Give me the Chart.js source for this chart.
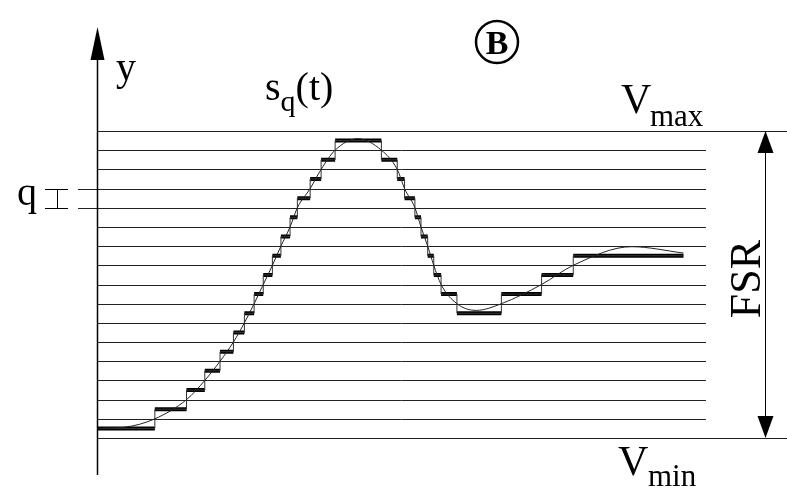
<!DOCTYPE html>
<html>
<head>
<meta charset="utf-8">
<script src="https://cdn.jsdelivr.net/npm/chart.js@4"></script>
<style>
	html, body { margin: 0; padding: 0; background: #fff; }
	#wrap { width: 787px; height: 488px; }
</style>
</head>
<body>
<div id="wrap"><canvas id="chart"></canvas></div>
<script>
// quantization levels (16 codes between Vmin and Vmax)
const levelLines = [0, 1, 2, 3, 4, 5, 6, 7, 8, 9, 10, 11, 12, 13, 14, 15, 16];
const gridEnd = 10;

// staircase s_q(t): start time of each code and the code itself
const stepTimes = [0, 0.95, 1.47, 1.77, 2.02, 2.24, 2.42, 2.58, 2.73, 2.88, 3.02, 3.17, 3.29, 3.50, 3.68, 3.91,
	4.67, 4.93, 5.05, 5.22, 5.32, 5.43, 5.53, 5.65, 5.91, 6.64, 7.30, 7.82];
const stepCodes = [0, 1, 2, 3, 4, 5, 6, 7, 8, 9, 10, 11, 12, 13, 14, 15,
	14, 13, 12, 11, 10, 9, 8, 7, 6, 7, 8, 9];
const stepEnd = 9.63;

// analog signal s(t)
const curveTimes = [0, 0.45, 0.95, 1.47, 1.77, 2.02, 2.24, 2.42, 2.58, 2.73, 2.88, 3.02, 3.17, 3.29, 3.50, 3.68, 3.91,
	4.28, 4.67, 4.93, 5.05, 5.22, 5.32, 5.43, 5.53, 5.65, 5.91, 6.23, 6.64, 7.30, 7.82, 8.78, 9.63];
const curveValues = [0.5, 0.56, 1, 2, 3, 4, 5, 6, 7, 8, 9, 10, 11, 12, 13, 14, 15,
	15.6, 15, 14, 13, 12, 11, 10, 9, 8, 7, 6.65, 7, 8, 9, 9.97, 9.64];

const SERIF = '"Liberation Serif", "DejaVu Serif", serif';

function stairPoints() {
	const pts = stepTimes.map((t, i) => ({ x: t, y: stepCodes[i] + 0.5 }));
	pts.push({ x: stepEnd, y: stepCodes[stepCodes.length - 1] + 0.5 });
	return pts;
}

function barPoints() {
	const pts = [];
	stepTimes.forEach((t, i) => {
		const end = i < stepTimes.length - 1 ? stepTimes[i + 1] : stepEnd;
		pts.push({ x: t, y: stepCodes[i] + 0.5 });
		pts.push({ x: end, y: stepCodes[i] + 0.5 });
		pts.push({ x: end, y: null });
	});
	return pts;
}

function arrowHead(ctx, x, y, dir, w, h) {
	ctx.beginPath();
	ctx.moveTo(x, y);
	ctx.lineTo(x - w / 2, y + dir * h);
	ctx.lineTo(x + w / 2, y + dir * h);
	ctx.closePath();
	ctx.fill();
}

const levelGrid = {
	id: 'levelGrid',
	beforeDatasetsDraw(chart) {
		const ctx = chart.ctx;
		const xs = chart.scales.x, ys = chart.scales.y;
		const x0 = Math.round(xs.getPixelForValue(0));
		const xg = xs.getPixelForValue(gridEnd);
		ctx.save();
		ctx.strokeStyle = '#222';
		ctx.lineWidth = 1;
		levelLines.forEach(k => {
			const y = Math.round(ys.getPixelForValue(k)) + 0.5;
			const full = k === levelLines[0] || k === levelLines[levelLines.length - 1];
			ctx.beginPath();
			ctx.moveTo(k === 12 || k === 13 ? 78 : x0, y);
			ctx.lineTo(full ? chart.width : xg, y);
			ctx.stroke();
		});
		ctx.restore();
	},
	afterDraw(chart) {
		const ctx = chart.ctx;
		const xs = chart.scales.x, ys = chart.scales.y;
		const ax = Math.round(xs.getPixelForValue(0)) + 0.5;
		ctx.save();
		ctx.fillStyle = '#000';
		ctx.strokeStyle = '#000';

		// y axis with arrow
		ctx.lineWidth = 1.5;
		ctx.beginPath();
		ctx.moveTo(ax, 50);
		ctx.lineTo(ax, 475);
		ctx.stroke();
		arrowHead(ctx, ax, 27, 1, 14, 33);

		// FSR double arrow
		const fx = 765.5;
		const yTop = ys.getPixelForValue(16), yBot = ys.getPixelForValue(0);
		ctx.lineWidth = 1;
		ctx.beginPath();
		ctx.moveTo(fx, yTop + 10);
		ctx.lineTo(fx, yBot - 10);
		ctx.stroke();
		arrowHead(ctx, fx, yTop, 1, 16, 22);
		arrowHead(ctx, fx, yBot, -1, 16, 22);

		// q marker
		const q1 = Math.round(ys.getPixelForValue(13)) + 0.5;
		const q0 = Math.round(ys.getPixelForValue(12)) + 0.5;
		ctx.beginPath();
		ctx.moveTo(45, q1); ctx.lineTo(68, q1);
		ctx.moveTo(45, q0); ctx.lineTo(68, q0);
		ctx.moveTo(57.5, q1); ctx.lineTo(57.5, q0);
		ctx.stroke();

		// labels
		ctx.textBaseline = 'alphabetic';
		ctx.textAlign = 'left';
		ctx.font = '40px ' + SERIF;
		ctx.fillText('y', 116, 80);
		ctx.fillText('q', 17, 205);

		let x = 265;
		ctx.fillText('s', x, 100);
		x += ctx.measureText('s').width;
		ctx.font = '30px ' + SERIF;
		ctx.fillText('q', x, 111);
		x += ctx.measureText('q').width;
		ctx.font = '40px ' + SERIF;
		ctx.fillText('(t)', x, 100);

		ctx.font = '42px ' + SERIF;
		ctx.fillText('V', 621, 113);
		ctx.fillText('V', 618, 475);
		ctx.font = '31px ' + SERIF;
		ctx.fillText('max', 650, 126);
		ctx.fillText('min', 648, 486);

		ctx.save();
		ctx.translate(760, 279);
		ctx.rotate(-Math.PI / 2);
		ctx.textAlign = 'center';
		ctx.font = '44px ' + SERIF;
		ctx.fillText('FSR', 0, 0);
		ctx.restore();

		// circled B
		ctx.lineWidth = 2.5;
		ctx.beginPath();
		ctx.arc(497, 42, 21, 0, Math.PI * 2);
		ctx.stroke();
		ctx.textAlign = 'center';
		ctx.font = 'bold 34px ' + SERIF;
		ctx.fillText('B', 497, 54);
		ctx.restore();
	}
};

const ctx = document.getElementById('chart').getContext('2d');
const chart = new Chart(ctx, {
	type: 'line',
	data: {
		datasets: [
			{
				label: 's(t)',
				data: curveTimes.map((t, i) => ({ x: t, y: curveValues[i] })),
				borderColor: '#222',
				borderWidth: 1,
				pointRadius: 0,
				cubicInterpolationMode: 'monotone',
			},
			{
				label: 'steps',
				data: stairPoints(),
				borderColor: '#333',
				borderWidth: 1,
				pointRadius: 0,
				stepped: true,
			},
			{
				label: 'sq(t)',
				data: barPoints(),
				borderColor: '#000',
				borderWidth: 4,
				borderCapStyle: 'butt',
				pointRadius: 0,
				spanGaps: false,
			},
		],
	},
	options: {
		responsive: true,
		maintainAspectRatio: false,
		animation: false,
		layout: { padding: { left: 97, right: 0, top: 131, bottom: 50 } },
		scales: {
			x: { type: 'linear', min: 0, max: 11.33, display: false },
			y: { type: 'linear', min: 0, max: 16, display: false },
		},
		plugins: {
			legend: { display: false },
			tooltip: { enabled: false },
		},
	},
	plugins: [levelGrid],
});
</script>
</body>
</html>
